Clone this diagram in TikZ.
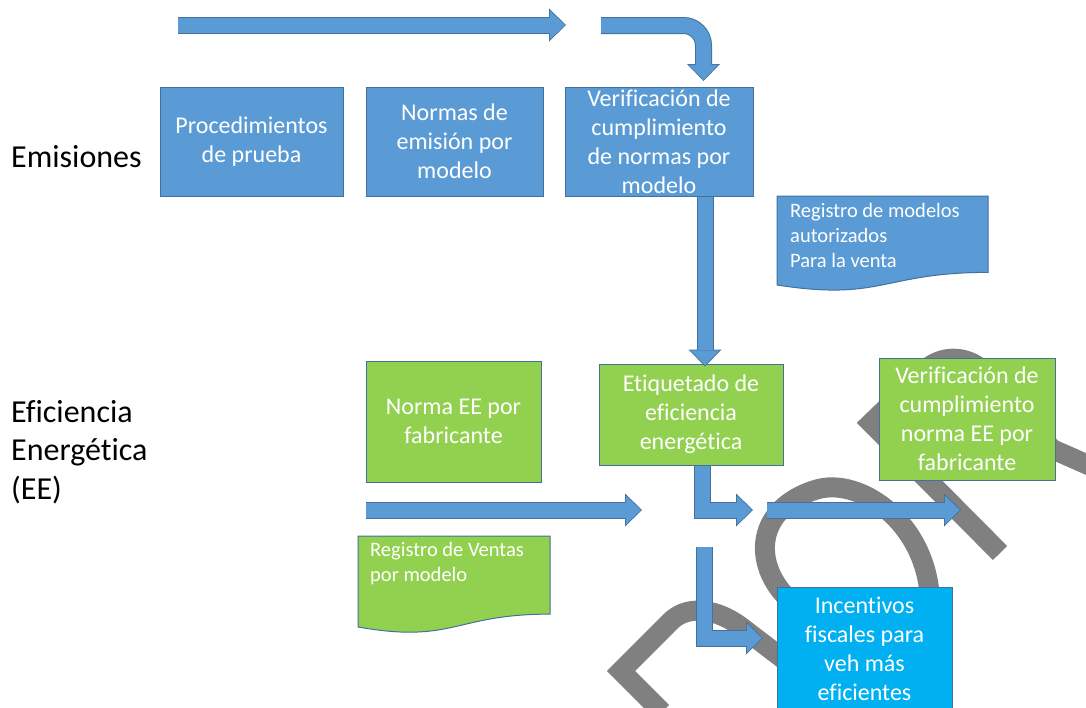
\documentclass[tikz,border=0pt]{standalone}
\usepackage{fontspec}
\setmainfont{Carlito}[Ligatures=NoCommon]
\usetikzlibrary{arrows.meta}
\definecolor{azulbox}{RGB}{91,155,213}
\definecolor{bordeazul}{RGB}{65,113,156}
\definecolor{verdebox}{RGB}{146,208,80}
\definecolor{cianbox}{RGB}{0,176,240}
\definecolor{grisfirma}{RGB}{128,128,128}

\begin{document}
\begin{tikzpicture}[x=1pt,y=-1pt,
  caja/.style={draw=bordeazul, line width=1pt, text=white, align=center, inner sep=0pt, font=\fontsize{24}{29}\selectfont},
  cajaazul/.style={caja, fill=azulbox},
  cajaverde/.style={caja, fill=verdebox},
  cajacian/.style={caja, fill=cianbox},
  flecha/.style={draw=azulbox, line width=15pt, shorten >=1.2pt, -{Triangle[length=15pt,width=29pt,line width=0pt]},
    preaction={draw=bordeazul, line width=17pt, shorten >=0pt, -{Triangle[length=17pt,width=33pt,line width=0pt]}}},
  firma/.style={draw=grisfirma, line width=20pt},
  documento/.style={draw=bordeazul, line width=1pt},
  doctexto/.style={text=white, align=left, anchor=north west, inner sep=0pt, font=\fontsize{20.5}{25}\selectfont},
  etiqueta/.style={anchor=west, align=left, inner sep=0pt, font=\fontsize{32}{38.5}\selectfont}
]
\useasboundingbox (0,0) rectangle (1086,707);

%Shape: scribble behind the diagram
\draw [firma] (662,712) -- (621,671) -- (672,620) .. controls (690,604) and (718,610) .. (740,626) -- (795,668) ;
\draw [firma] (795,605) .. controls (752,570) and (752,510) .. (815,490) .. controls (860,475) and (930,525) .. (930,605) ;
\draw [firma] (1000,553) -- (871,423) -- (930,366) .. controls (946,355) and (966,357) .. (980,368) -- (1052,449) -- (1095,468) ;

% Text Node
\node [etiqueta] (emis) at (11,157) {Emisiones};
% Text Node
\node [etiqueta] (efic) at (11,452) {Eficiencia\\Energética\\(EE)};

%Shape: Rectangle
\node [cajaazul, minimum width=183pt, minimum height=109pt] (proc) at (251.5,141.5) {Procedimientos\\de prueba};
%Shape: Rectangle
\node [cajaazul, minimum width=177pt, minimum height=109pt] (normas) at (454.5,141.5) {Normas de\\emisión por\\modelo};
%Shape: Rectangle
\node [cajaazul, minimum width=188pt, minimum height=109pt] (verif) at (659,141.5) {Verificación de\\cumplimiento\\de normas por\\modelo};

%Shape: Document
\draw [documento, fill=azulbox] (777,196) -- (988,196) -- (988,272.4) .. controls (882.5,272.4) and (882.5,301.5) .. (777,285) -- cycle ;
% Text Node
\node [doctexto] (regmod) at (790,203) {Registro de modelos\\autorizados\\Para la venta};

%Shape: Rectangle
\node [cajaverde, minimum width=175pt, minimum height=121pt] (normaee) at (453.5,421.5) {Norma EE por\\fabricante};
%Shape: Rectangle
\node [cajaverde, minimum width=184pt, minimum height=101pt] (etiq) at (691,414.5) {Etiquetado de\\eficiencia\\energética};
%Shape: Rectangle
\node [cajaverde, minimum width=176pt, minimum height=122pt] (verifee) at (967,419) {Verificación de\\cumplimiento\\norma EE por\\fabricante};

%Shape: Document
\draw [documento, fill=verdebox] (358,536) -- (550,536) -- (550,614.1) .. controls (454,614.1) and (454,643.9) .. (358,627) -- cycle ;
% Text Node
\node [doctexto] (regven) at (370,542) {Registro de Ventas\\por modelo};

%Shape: Rectangle
\node [cajacian, minimum width=175pt, minimum height=123pt] (incent) at (864.5,648.5) {Incentivos\\fiscales para\\veh más\\eficientes};

% Arrow ends
\coordinate (f1a) at (178,25);
\coordinate (f1b) at (566,25);
\coordinate (f2a) at (601,25.5);
\coordinate (f2b) at (703.5,81);
\coordinate (f3x) at (705,0);
\coordinate (f4a) at (366,510);
\coordinate (f4b) at (642,510);
\coordinate (f5x) at (702.5,0);
\coordinate (f5b) at (753,510);
\coordinate (f6a) at (767,510);
\coordinate (f6b) at (961,510);
\coordinate (f7a) at (704.5,547);
\coordinate (f7b) at (763,638);

%Block Arrows
\draw [flecha] (f1a) -- (f1b) ;
\draw [flecha, rounded corners=20pt] (f2a) -- (f2a -| f2b) -- (f2b) ;
\draw [flecha] (verif.south -| f3x) -- ([yshift=-3pt]etiq.north -| f3x) ;
\draw [flecha] (f4a) -- (f4b) ;
\draw [flecha] (etiq.south -| f5x) -- (f5x |- f5b) -- (f5b) ;
\draw [flecha] (f6a) -- (f6b) ;
\draw [flecha] (f7a) -- (f7a |- f7b) -- (f7b) ;

\end{tikzpicture}
\end{document}
